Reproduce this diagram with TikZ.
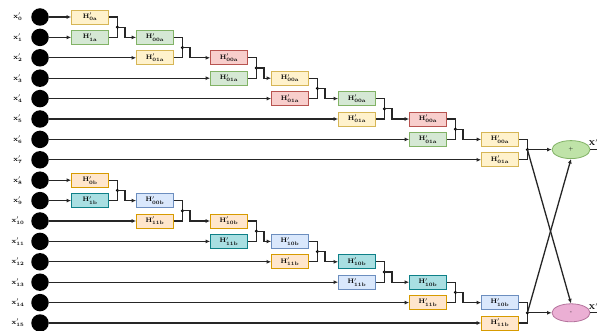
\documentclass[tikz,border=0pt]{standalone}
\usetikzlibrary{arrows.meta,shapes.geometric,calc}
\definecolor{yF}{HTML}{FFF2CC}\definecolor{yD}{HTML}{D6B656}
\definecolor{gF}{HTML}{D5E8D4}\definecolor{gD}{HTML}{82B366}
\definecolor{rF}{HTML}{F8CECC}\definecolor{rD}{HTML}{B85450}
\definecolor{oF}{HTML}{FFE6CC}\definecolor{oD}{HTML}{D79B00}
\definecolor{tF}{HTML}{A9DFE2}\definecolor{tD}{HTML}{0E8088}
\definecolor{bF}{HTML}{DAE8FC}\definecolor{bD}{HTML}{6C8EBF}
\definecolor{egF}{HTML}{BFE3A8}
\definecolor{epF}{HTML}{EBAFD4}\definecolor{epD}{HTML}{B5739D}
\tikzset{
  blk/.style={rectangle,minimum width=37pt,minimum height=14pt,inner sep=0pt,line width=0.8pt,
    font=\fontsize{6.5}{7}\selectfont},
  boxY/.style={blk,fill=yF,draw=yD},
  boxG/.style={blk,fill=gF,draw=gD},
  boxR/.style={blk,fill=rF,draw=rD},
  boxO/.style={blk,fill=oF,draw=oD},
  boxT/.style={blk,fill=tF,draw=tD},
  boxB/.style={blk,fill=bF,draw=bD},
  wire/.style={line width=1.3pt,draw=black!85},
  arr/.style={wire,-{Latex[length=4.5pt,width=4pt]}},
  indot/.style={circle,fill=black,minimum size=17.5pt,inner sep=0pt},
  inlabel/.style={font=\fontsize{7}{8}\selectfont},
  sumnode/.style={ellipse,minimum width=38pt,minimum height=18pt,inner sep=0pt,line width=0.8pt,
    font=\fontsize{5}{6}\selectfont},
}
\begin{document}
\begin{tikzpicture}[x=1pt,y=-1pt]
\useasboundingbox (0,0) rectangle (597,331);
\fill[white] (0,0) rectangle (597,331);

% inputs
\foreach \i in {0,...,15}{
  \node[indot] (d\i) at (40,{17+20.4*\i}) {};
  \node[inlabel] (l\i) at (18,{17+20.4*\i}) {\textbf{x}$'_{\mathbf{\i}}$};
}

% upper half: stages of paired blocks
\foreach \s/\cx/\ct/\cb/\lt/\lb in {1/90/boxY/boxG/0a/1a, 2/155/boxG/boxY/00a/01a,
    3/229/boxR/boxG/00a/01a, 4/290/boxY/boxR/00a/01a, 5/357/boxG/boxY/00a/01a,
    6/428/boxR/boxG/00a/01a, 7/500/boxY/boxY/00a/01a}{
  \node[\ct] (At\s) at (\cx,{17+20.4*(\s-1)}) {\textbf{H}$'_{\mathbf{\lt}}$};
  \node[\cb] (Ab\s) at (\cx,{17+20.4*\s}) {\textbf{H}$'_{\mathbf{\lb}}$};
  \coordinate (Aj\s) at ($(At\s.east)!0.5!(Ab\s.east)+(8.5,0)$);
  \draw[wire] (At\s.east) -| (Aj\s);
  \draw[wire] (Ab\s.east) -| (Aj\s);
  \fill[black] (Aj\s) circle (1.7);
  \draw[arr] (d\s) -- (Ab\s.west);
}
\draw[arr] (d0) -- (At1.west);
\foreach \s in {1,...,6}{
  \pgfmathtruncatemacro\n{\s+1}
  \draw[arr] (Aj\s) -- ++(7.5,0) |- (At\n.west);
}

% lower half: stages of paired blocks
\foreach \s/\cx/\ct/\cb/\lt/\lb in {1/90/boxO/boxT/0b/1b, 2/155/boxB/boxO/00b/11b,
    3/229/boxO/boxT/10b/11b, 4/290/boxB/boxO/10b/11b, 5/357/boxT/boxB/10b/11b,
    6/428/boxT/boxO/10b/11b, 7/500/boxB/boxO/10b/11b}{
  \pgfmathtruncatemacro\r{\s+8}
  \node[\ct] (Bt\s) at (\cx,{17+20.4*(\s+7)}) {\textbf{H}$'_{\mathbf{\lt}}$};
  \node[\cb] (Bb\s) at (\cx,{17+20.4*(\s+8)}) {\textbf{H}$'_{\mathbf{\lb}}$};
  \coordinate (Bj\s) at ($(Bt\s.east)!0.5!(Bb\s.east)+(8.5,0)$);
  \draw[wire] (Bt\s.east) -| (Bj\s);
  \draw[wire] (Bb\s.east) -| (Bj\s);
  \fill[black] (Bj\s) circle (1.7);
  \draw[arr] (d\r) -- (Bb\s.west);
}
\draw[arr] (d8) -- (Bt1.west);
\foreach \s in {1,...,6}{
  \pgfmathtruncatemacro\n{\s+1}
  \draw[arr] (Bj\s) -- ++(7.5,0) |- (Bt\n.west);
}

% final butterfly
\node[sumnode,fill=egF,draw=gD] (e0) at (571,{17+20.4*6.5}) {+};
\node[sumnode,fill=epF,draw=epD] (e1) at (571,{17+20.4*14.5}) {-};
\draw[arr] (Aj7) -- (e0.west);
\draw[arr] (Bj7) -- (e1.west);
\draw[arr] (Aj7) -- (e1.north);
\draw[arr] (Bj7) -- (e0.south);
\coordinate (o0) at (597,{17+20.4*6.5});
\coordinate (o1) at (597,{17+20.4*14.5});
\draw[wire] (e0.east) -- (o0);
\draw[wire] (e1.east) -- (o1);
\node[inlabel,anchor=south west,inner sep=0pt] (X0) at (588.5,146) {\textbf{X}$'$};
\node[inlabel,anchor=south west,inner sep=0pt] (X1) at (588.5,310) {\textbf{X}$'$};
\end{tikzpicture}
\end{document}
